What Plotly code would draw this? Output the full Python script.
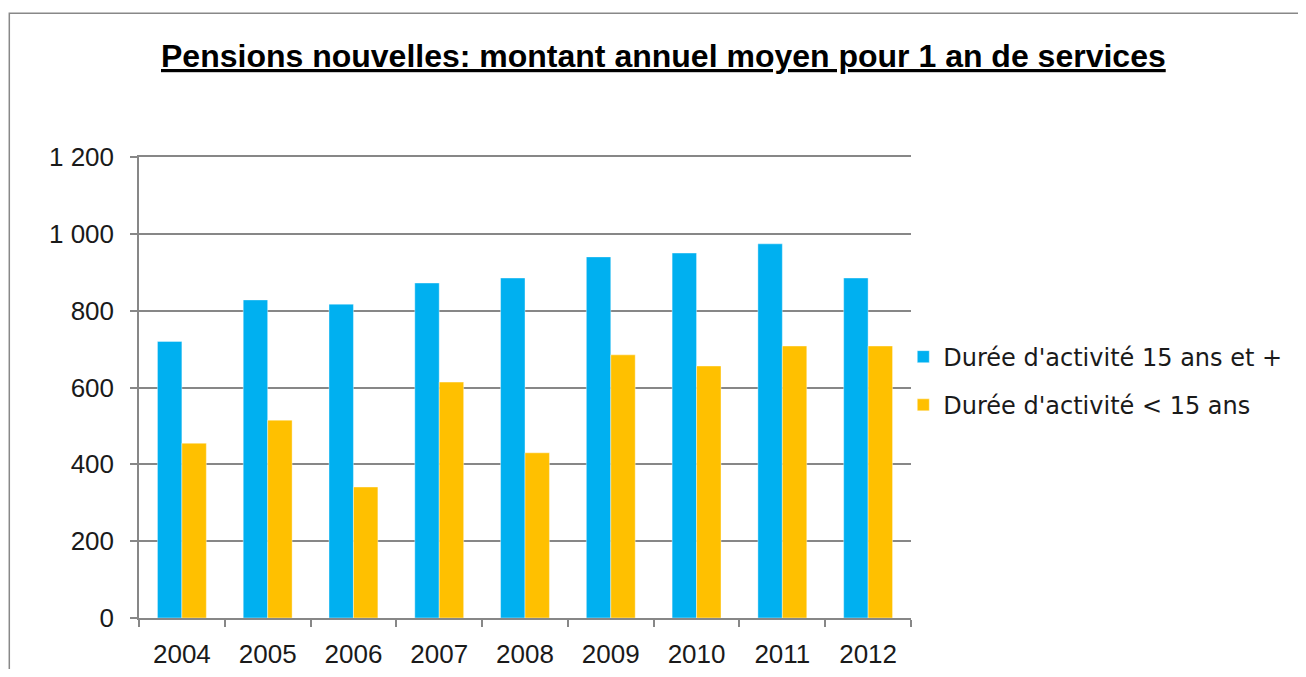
"""Pensions nouvelles: montant annuel moyen pour 1 an de services."""

import plotly.graph_objects as go

years = ["2004", "2005", "2006", "2007", "2008", "2009", "2010", "2011", "2012"]
duree_15_plus = [720, 828, 817, 872, 885, 940, 950, 974, 885]
duree_moins_15 = [455, 515, 341, 614, 430, 685, 656, 708, 708]

series_names = ["Durée d'activité 15 ans et +", "Durée d'activité < 15 ans"]
colors = ["#00B0F0", "#FFC000"]

FONT = "Liberation Sans"
GRID = "#878787"

fig = go.Figure()
for name, values, color in zip(series_names, [duree_15_plus, duree_moins_15], colors):
    fig.add_trace(
        go.Bar(
            name=name,
            legendgroup=name,
            x=years,
            y=values,
            marker={"color": color, "line": {"color": "rgba(255,255,255,0.5)", "width": 0.8}},
        )
    )

fig.update_layout(
    width=1298,
    height=661,
    paper_bgcolor="white",
    plot_bgcolor="white",
    barmode="group",
    bargap=0.43,
    bargroupgap=0,
    separators=", ",
    margin={"l": 131, "r": 395, "t": 149, "b": 51},
    font={"family": FONT, "size": 26, "color": "#1a1a1a"},
    showlegend=True,
    legend={
        "x": 0.99,
        "y": 0.514,
        "xanchor": "left",
        "yanchor": "middle",
        "font": {"family": "DejaVu Sans", "size": 24},
        "itemwidth": 30,
        "traceorder": "grouped",
        "tracegroupgap": 14,
        "bgcolor": "rgba(0,0,0,0)",
    },
    xaxis={
        "automargin": False,
        "showline": True,
        "mirror": True,
        "linecolor": GRID,
        "linewidth": 1.5,
        "ticks": "outside",
        "tickson": "boundaries",
        "ticklen": 7,
        "tickcolor": GRID,
        "tickwidth": 1.5,
        "ticklabelstandoff": 12,
        "showgrid": False,
        "tickfont": {"size": 26},
    },
    yaxis={
        "automargin": False,
        "range": [0, 1200],
        "dtick": 200,
        "tickformat": ",d",
        "showline": True,
        "linecolor": GRID,
        "linewidth": 1.5,
        "ticks": "outside",
        "ticklen": 7,
        "tickcolor": GRID,
        "tickwidth": 1.5,
        "ticklabelstandoff": 11,
        "showgrid": True,
        "gridcolor": GRID,
        "gridwidth": 1.5,
        "zeroline": False,
        "tickfont": {"size": 26},
    },
    annotations=[
        {
            "text": "<b><u>Pensions nouvelles: montant annuel moyen pour 1 an de services</u></b>",
            "xref": "paper",
            "yref": "paper",
            "x": 0.68,
            "y": 1.219,
            "xanchor": "center",
            "yanchor": "middle",
            "showarrow": False,
            "font": {"family": FONT, "size": 32, "color": "black"},
        }
    ],
    shapes=[
        {
            "type": "rect",
            "xref": "paper",
            "yref": "paper",
            "x0": -0.168,
            "x1": 1.7,
            "y0": -0.3,
            "y1": 1.312,
            "line": {"color": "#888888", "width": 1.5},
            "fillcolor": "rgba(0,0,0,0)",
            "layer": "below",
        }
    ],
)

fig.write_html("out.html")
